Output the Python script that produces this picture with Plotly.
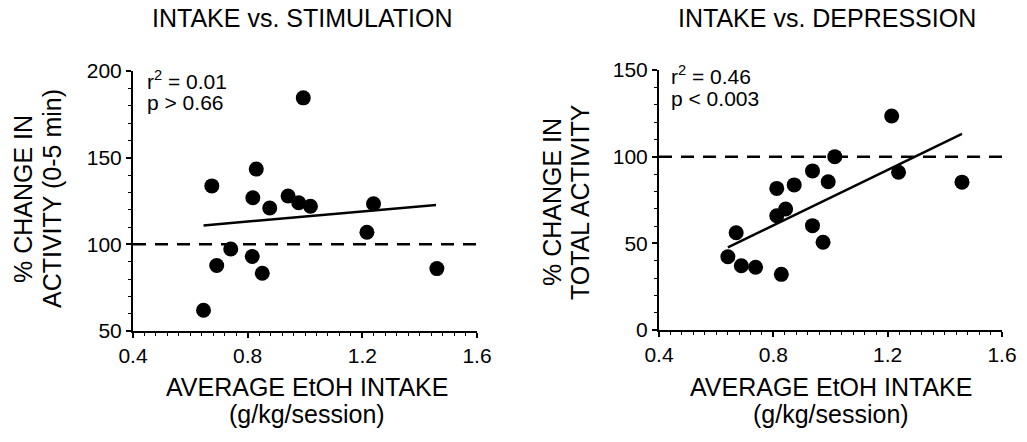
import plotly.graph_objects as go

# ---- data ----
stim_intake = [0.646, 0.675, 0.692, 0.741, 0.816, 0.818, 0.830, 0.851, 0.877,
               0.941, 0.978, 0.994, 1.019, 1.216, 1.239, 1.460]
stim_change = [62, 133.7, 87.8, 97.3, 93, 126.9, 143.4, 83.3, 121,
               127.9, 124, 184.5, 122, 107, 123.4, 86]
stim_fit_x = [0.646, 1.457]
stim_fit_y = [110.9, 122.7]

dep_intake = [0.641, 0.670, 0.688, 0.738, 0.812, 0.812, 0.828, 0.843, 0.873,
              0.937, 0.937, 0.974, 0.992, 1.015, 1.214, 1.238, 1.460]
dep_change = [42.3, 56.1, 37.1, 36.2, 81.7, 65.9, 32.1, 69.8, 83.7,
              91.8, 60.2, 50.6, 85.5, 100, 123.5, 91, 85.3]
dep_fit_x = [0.641, 1.46]
dep_fit_y = [47.7, 113.1]

x_ticks = [0.4, 0.8, 1.2, 1.6]
x_tick_labels = ["0.4", "0.8", "1.2", "1.6"]
stim_y_ticks = [50, 100, 150, 200]
dep_y_ticks = [0, 50, 100, 150]
baseline_x = [0.4, 1.6]
baseline_y = [100, 100]

titles = ["INTAKE vs. STIMULATION", "INTAKE vs. DEPRESSION"]
stats_left = ["r<sup>2</sup> = 0.01", "p > 0.66"]
stats_right = ["r<sup>2</sup> = 0.46", "p < 0.003"]

FONT = "Liberation Sans, Arial, sans-serif"
W, H = 1027, 442

fig = go.Figure()

def add_panel(xa, ya, xs, ys, fx, fy):
    fig.add_trace(go.Scatter(x=baseline_x, y=baseline_y, mode="lines",
                             line=dict(color="black", width=2.5, dash="13px,9px"),
                             xaxis=xa, yaxis=ya, showlegend=False, hoverinfo="skip"))
    fig.add_trace(go.Scatter(x=fx, y=fy, mode="lines",
                             line=dict(color="black", width=2.5),
                             xaxis=xa, yaxis=ya, showlegend=False))
    fig.add_trace(go.Scatter(x=xs, y=ys, mode="markers",
                             marker=dict(color="black", size=15),
                             xaxis=xa, yaxis=ya, showlegend=False))

add_panel("x", "y", stim_intake, stim_change, stim_fit_x, stim_fit_y)
add_panel("x2", "y2", dep_intake, dep_change, dep_fit_x, dep_fit_y)

def xaxis(domain, anchor):
    return dict(domain=domain, anchor=anchor, range=[0.4, 1.6],
                tickvals=x_ticks, ticktext=x_tick_labels,
                showline=True, linecolor="black", linewidth=2,
                ticks="outside", ticklen=5, tickwidth=2, tickcolor="black",
                minor=dict(dtick=0.04, tick0=0.4, ticks="outside", ticklen=3,
                           tickwidth=1, tickcolor="black"),
                showgrid=False, zeroline=False, automargin=False,
                tickfont=dict(family=FONT, size=21, color="black"))

def yaxis(domain, anchor, rng, ticks):
    return dict(domain=domain, anchor=anchor, range=rng,
                tickvals=ticks, ticktext=[str(t) for t in ticks],
                showline=True, linecolor="black", linewidth=2,
                ticks="outside", ticklen=5, tickwidth=2, tickcolor="black",
                minor=dict(dtick=10, ticks="outside", ticklen=3,
                           tickwidth=1, tickcolor="black"),
                showgrid=False, zeroline=False, automargin=False,
                tickfont=dict(family=FONT, size=21, color="black"))

def px(x):
    return x / W

def py(y):
    return 1 - y / H

fig.update_layout(
    width=W, height=H,
    margin=dict(l=0, r=0, t=0, b=0, pad=0, autoexpand=False),
    paper_bgcolor="white", plot_bgcolor="white",
    xaxis=xaxis([px(133), px(477)], "y"),
    yaxis=yaxis([py(331), py(71)], "x", [50, 200], stim_y_ticks),
    xaxis2=xaxis([px(659), px(1002)], "y2"),
    yaxis2=yaxis([py(330), py(70)], "x2", [0, 150], dep_y_ticks),
)

ann = []
def text(x, y, s, size=24, angle=0, xanchor="center"):
    ann.append(dict(x=px(x), y=py(y), xref="paper", yref="paper", text=s,
                    showarrow=False, textangle=angle, xanchor=xanchor,
                    yanchor="middle",
                    font=dict(family=FONT, size=size, color="black")))

# panel titles
text(302, 18, titles[0], 25)
text(827, 18, titles[1], 25)
# x-axis titles
for cx in (307, 831):
    text(cx, 387, "AVERAGE EtOH INTAKE", 25)
    text(cx, 414, "(g/kg/session)", 25)
# y-axis titles
text(23, 199, "% CHANGE IN", 25, -90)
text(52, 199, "ACTIVITY (0-5 min)", 25, -90)
text(552, 202, "% CHANGE IN", 25, -90)
text(580, 202, "TOTAL ACTIVITY", 25, -90)
# stats
text(145, 80, stats_left[0], 21, xanchor="left")
text(145, 102, stats_left[1], 21, xanchor="left")
text(669, 75, stats_right[0], 21, xanchor="left")
text(669, 98, stats_right[1], 21, xanchor="left")

fig.update_layout(annotations=ann)
fig.write_html("out.html",
               config={"displayModeBar": False},
               post_script="document.body.style.margin='0';document.body.style.overflow='hidden';")
